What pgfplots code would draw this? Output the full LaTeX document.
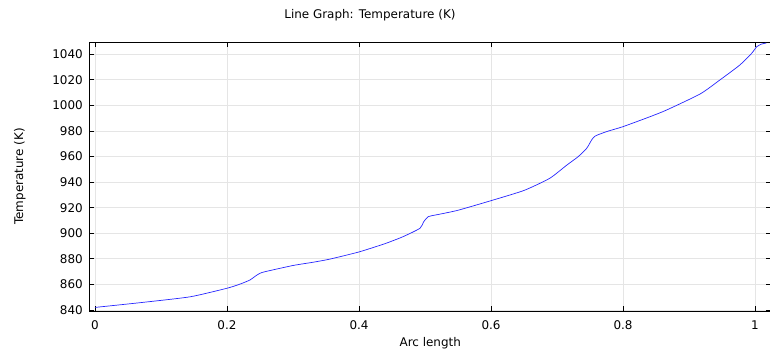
\documentclass[border=0pt]{standalone}
\usepackage{pgfplots}
\pgfplotsset{compat=1.18}
\usepackage{fontspec}
\setmainfont{DejaVu Sans}
\begin{document}
\begin{tikzpicture}
\begin{axis}[
  scale only axis,
  width=681.5bp, height=269bp,
  xmin=-0.00833, xmax=1.0242,
  ymin=839.2, ymax=1049.6,
  xtick={0,0.2,0.4,0.6,0.8,1},
  ytick={840,860,880,900,920,940,960,980,1000,1020,1040},
  xticklabels={0,0.2,0.4,0.6,0.8,1},
  yticklabels={840,860,880,900,920,940,960,980,1000,1020,1040},
  tick align=inside,
  major tick length=5bp,
  tick style={black, line width=0.8bp},
  grid=major,
  major grid style={black!10, line width=0.8bp},
  axis line style={black, line width=0.8bp},
  font=\fontsize{12}{14}\selectfont,
  tick label style={font=\fontsize{12}{14}\selectfont},
  yticklabel style={anchor=east, inner sep=0pt, xshift=-6.5bp},
  xticklabel style={anchor=north, inner sep=0pt, yshift=-9.5bp},
  title={Line Graph: Temperature (K)},
  every axis title/.style={at={(axis description cs:0.4115,1.1004)}, anchor=center, inner sep=0pt},
  xlabel={Arc length},
  xlabel style={at={(axis description cs:0.5,-0.119)}, anchor=center, inner sep=0pt},
  ylabel={Temperature (K)},
  ylabel style={at={(axis description cs:-0.1021,0.5)}, anchor=center, inner sep=0pt},
]
\addplot[color=blue!85, line width=0.7bp, mark=none, smooth, tension=0.35, line join=round] coordinates {
(0,842) (0.07,845.8) (0.144,850.3) (0.2,857) (0.22,860.3) (0.235,863.5)
(0.243,866.5) (0.25,868.7) (0.258,870) (0.3,874.8) (0.33,877.3) (0.356,879.8)
(0.4,885.4) (0.44,892) (0.467,897.4) (0.4924,903.9) (0.498,909)
(0.505,913) (0.523,915) (0.55,918) (0.6,925.5) (0.65,933.5)
(0.689,943) (0.715,953.4) (0.732,959.9) (0.745,966.5) (0.7525,973)
(0.758,976.1) (0.775,979.5) (0.8,983.4) (0.841,991.2) (0.866,996.4)
(0.917,1009) (0.947,1020) (0.977,1031.6) (0.995,1040.8) (1.0025,1045.9)
(1.01,1048) (1.017,1048.8)
};
\end{axis}
\pgfresetboundingbox
\path[use as bounding box] (current axis.south west) ++(-89.5bp,-47bp) rectangle ([xshift=-1bp,yshift=42bp]current axis.north east);
\end{tikzpicture}
\end{document}
